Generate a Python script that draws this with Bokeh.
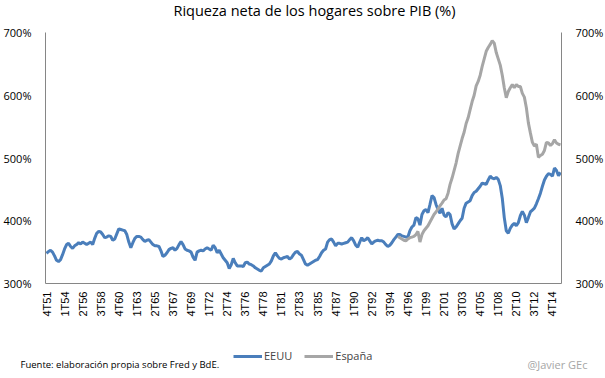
from bokeh.plotting import figure
from bokeh.models import (Range1d, LinearAxis, FixedTicker, PrintfTickFormatter,
                          Legend, LegendItem, Label)
from bokeh.layouts import column
from bokeh.embed import file_html
from bokeh.resources import INLINE
import math

# ---------------- data ----------------
start_year, start_q = 1951, 4          # first quarter: 4T51
eeuu = [
    348, 351, 353, 350, 344, 337, 335, 338, 346, 355,
    362, 364, 359, 356, 360, 362, 365, 363, 366, 364,
    362, 364, 366, 362, 372, 380, 383, 382, 378, 373,
    374, 376, 375, 369, 371, 379, 387, 386, 385, 384,
    378, 366, 357, 365, 372, 375, 375, 374, 370, 367,
    369, 370, 366, 362, 360, 360, 359, 352, 343, 345,
    349, 354, 356, 357, 353, 356, 362, 367, 362, 355,
    353, 352, 350, 342, 337, 350, 352, 353, 352, 355,
    357, 355, 353, 361, 357, 349, 353, 347, 341, 337,
    333, 324, 330, 340, 333, 328, 328, 328, 327, 333,
    334, 331, 330, 328, 325, 323, 321, 320, 325, 327,
    329, 331, 336, 344, 349, 344, 340, 339, 341, 342,
    343, 339, 341, 346, 350, 351, 347, 345, 338, 331,
    329, 331, 333, 335, 337, 338, 343, 349, 353, 355,
    366, 370, 371, 366, 360, 364, 364, 363, 364, 365,
    366, 370, 373, 368, 361, 358, 366, 373, 368, 370,
    373, 368, 363, 366, 368, 369, 368, 368, 366, 362,
    359, 361, 365, 370, 374, 378, 378, 376, 375, 374,
    374, 384, 390, 393, 405, 403, 393, 410, 416, 418,
    413, 426, 440, 437, 426, 418, 412, 420, 409, 406,
    413, 410, 395, 387, 390, 395, 400, 404, 420, 428,
    430, 432, 440, 445, 447, 451, 455, 460, 459, 458,
    465, 471, 468, 467, 469, 466, 456, 436, 405, 384,
    380, 388, 393, 396, 392, 397, 408, 415, 409, 397,
    405, 414, 417, 420, 427, 435, 444, 455, 465, 471,
    475, 474, 471, 484, 480, 472, 477,
]
espana_start = "3T95"
espana = [
    375, 373, 371, 369, 368, 371, 373, 374, 375, 378,
    383, 366, 378, 384, 388, 392, 398, 404, 410, 414,
    419, 424, 428, 433, 435, 444, 458, 468, 480, 492,
    507, 519, 531, 541, 555, 564, 577, 590, 600, 615,
    622, 632, 646, 658, 670, 676, 681, 687, 683, 668,
    658, 648, 632, 612, 596, 606, 612, 617, 612, 617,
    614, 614, 603, 597, 580, 556, 540, 525, 519, 522,
    501, 504, 506, 512, 525, 524, 520, 523, 529, 524,
    522, 521,
]
y_ticks = [300, 400, 500, 600, 700]
label_step = 9

# quarter category labels
quarters = []
yy, q = start_year, start_q
for _ in range(len(eeuu)):
    quarters.append(f"{q}T{yy % 100:02d}")
    q += 1
    if q > 4:
        q, yy = 1, yy + 1

x_us = list(range(len(eeuu)))
i0 = quarters.index(espana_start)
x_es = list(range(i0, i0 + len(espana)))

BLUE = "#4A7EBB"
GREY = "#A6A6A6"
AXIS = "#868686"
FONT = "Open Sans"

W = 589
p = figure(frame_width=516, frame_height=251, output_backend="svg",
           toolbar_location=None,
           x_range=Range1d(-0.5, len(eeuu) - 0.5), y_range=Range1d(300, 700),
           min_border_left=36, min_border_right=37, min_border_top=0,
           min_border_bottom=0, outline_line_color=None,
           title="Riqueza neta de los hogares sobre PIB (%)")
p.frame_align = False
p.title.align = "left"
p.title.offset = 128
p.title.text_font = FONT
p.title.text_font_style = "normal"
p.title.text_font_size = "14.5px"
p.title.text_color = "#000000"
p.title.vertical_align = "top"
p.title.standoff = 0
p.xgrid.visible = False
p.ygrid.visible = False

r_us = p.line(x_us, eeuu, line_color=BLUE, line_width=3)
r_es = p.line(x_es, espana, line_color=GREY, line_width=3)

# x axis (bottom)
xa = p.below[0]
xa.ticker = FixedTicker(ticks=list(range(0, len(eeuu), label_step)))
xa.major_label_overrides = {i: quarters[i] for i in range(0, len(eeuu), label_step)}
xa.major_label_orientation = math.pi / 2
xa.major_label_text_font = "Liberation Sans"
xa.major_label_text_font_size = "11px"
xa.major_label_text_color = "#000000"
xa.major_tick_out = 0
xa.major_tick_in = 0
xa.major_label_standoff = 8
xa.axis_line_color = AXIS
xa.major_tick_line_color = None
xa.minor_tick_line_color = None

# blank spacer axis between title and frame (one white tick, empty label)
spacer = LinearAxis(ticker=FixedTicker(ticks=[0]), major_tick_out=11, major_tick_in=0,
                    major_label_standoff=0, axis_line_color=None,
                    major_tick_line_color="white", minor_tick_line_color=None,
                    major_label_overrides={0: ""},
                    major_label_text_font_size="1px")
p.add_layout(spacer, "above")

# y axes
ya = p.left[0]
ya2 = LinearAxis()
p.add_layout(ya2, "right")
for ax in (ya, ya2):
    ax.ticker = FixedTicker(ticks=y_ticks)
    ax.formatter = PrintfTickFormatter(format="%d%%")
    ax.major_label_text_font = FONT
    ax.major_label_text_font_size = "11px"
    ax.major_label_text_color = "#000000"
    ax.major_label_standoff = 8
    ax.axis_line_color = AXIS
    ax.major_tick_line_color = None
    ax.minor_tick_line_color = None

# ---------------- footer strip: legend + source texts ----------------
H2 = 52
f = figure(width=W, height=H2, output_backend="svg", toolbar_location=None,
           x_range=Range1d(0, W), y_range=Range1d(0, H2),
           x_axis_type=None, y_axis_type=None, min_border=0,
           outline_line_color=None)
f.frame_align = False
f.xgrid.visible = False
f.ygrid.visible = False
nan = float("nan")
l_us = f.line(x=[nan], y=[nan], line_color=BLUE, line_width=3)
l_es = f.line(x=[nan], y=[nan], line_color=GREY, line_width=3)
legend = Legend(items=[LegendItem(label="EEUU", renderers=[l_us]),
                       LegendItem(label="España", renderers=[l_es])],
                orientation="horizontal", location=(233, 8),
                padding=0, margin=0, spacing=12, glyph_width=29,
                glyph_height=14, label_height=14, label_standoff=2,
                label_text_font=FONT, label_text_font_size="11px",
                border_line_color=None, background_fill_alpha=0)
f.add_layout(legend, "center")
f.add_layout(Label(x=20, y=7, text="Fuente: elaboración propia sobre Fred y BdE.",
                   text_font=FONT, text_font_size="9.5px", text_baseline="middle",
                   text_color="#000000"))
f.add_layout(Label(x=587, y=7, text="@Javier GEc", text_font=FONT,
                   text_font_size="11px", text_align="right",
                   text_baseline="middle", text_color="#A6A6A6"))

layout = column(p, f, spacing=0)
open("out.html", "w").write(file_html(layout, INLINE))
